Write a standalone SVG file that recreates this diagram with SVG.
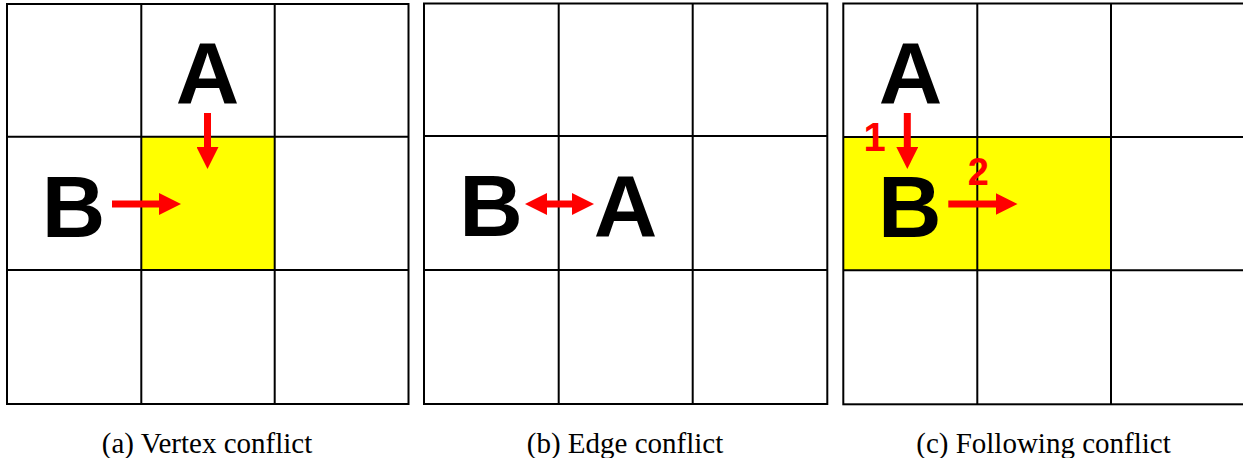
<svg xmlns="http://www.w3.org/2000/svg" width="1243" height="458" viewBox="0 0 1243 458">
<style>
.grid{fill:none;stroke:#000;stroke-width:2}
.hl{fill:#FFFF00;stroke:none}
.big{font-family:"Liberation Sans",Arial,sans-serif;font-weight:bold;font-size:88px;fill:#000;text-anchor:middle}
.num{font-family:"Liberation Sans",Arial,sans-serif;font-weight:bold;fill:#FF0000;text-anchor:middle}
.cap{font-family:"Liberation Serif","Times New Roman",serif;font-size:29px;fill:#000;text-anchor:middle}
.arr{stroke:#FF0000;stroke-width:7;fill:none}
</style>
<defs>
<marker id="head" viewBox="0 0 22 22" markerWidth="22" markerHeight="22" refX="1" refY="11" markerUnits="userSpaceOnUse" orient="auto-start-reverse">
<path d="M0,0 L22,11 L0,22 Z" fill="#FF0000"/>
</marker>
</defs>
<rect width="1243" height="458" fill="#fff"/>
<g id="panel-a">
<rect class="hl" x="141.3" y="136.7" width="133.4" height="133.3"/>
<rect class="grid" x="7" y="4" width="401.5" height="400"/>
<path class="grid" d="M141.3,4V404M274.7,4V404M7,136.7H408.5M7,270H408.5"/>
<text class="big" x="207.5" y="103">A</text>
<text class="big" x="73.5" y="237">B</text>
</g>
<g id="panel-b">
<rect class="grid" x="424" y="3.5" width="403.3" height="400.5"/>
<path class="grid" d="M558.7,3.5V404M692.7,3.5V404M424,136H827.3M424,270H827.3"/>
<text class="big" x="491" y="236">B</text>
<text class="big" x="625.5" y="236">A</text>
</g>
<g id="panel-c">
<rect class="hl" x="843.3" y="137" width="267.7" height="133.3"/>
<rect class="grid" x="843.3" y="3.5" width="403" height="400.8"/>
<path class="grid" d="M977.3,3.5V404.3M1111,3.5V404.3M843.3,137H1246M843.3,270.3H1246"/>
<text class="big" x="910.5" y="103">A</text>
<text class="big" x="909.7" y="237">B</text>
<text class="num" x="874.5" y="150.7" font-size="40">1</text>
<text class="num" x="978.3" y="185" font-size="38">2</text>
</g>
<g id="connectors">
<path class="arr" d="M207.5,113V148" marker-end="url(#head)"/>
<path class="arr" d="M112,204H160" marker-end="url(#head)"/>
<path class="arr" d="M546,204H573" marker-start="url(#head)" marker-end="url(#head)"/>
<path class="arr" d="M907.3,113V148" marker-end="url(#head)"/>
<path class="arr" d="M948.3,204H996.5" marker-end="url(#head)"/>
</g>
<g id="captions">
<text class="cap" x="207" y="453">(a) Vertex conflict</text>
<text class="cap" x="625" y="453">(b) Edge conflict</text>
<text class="cap" x="1043.5" y="453">(c) Following conflict</text>
</g>
</svg>
